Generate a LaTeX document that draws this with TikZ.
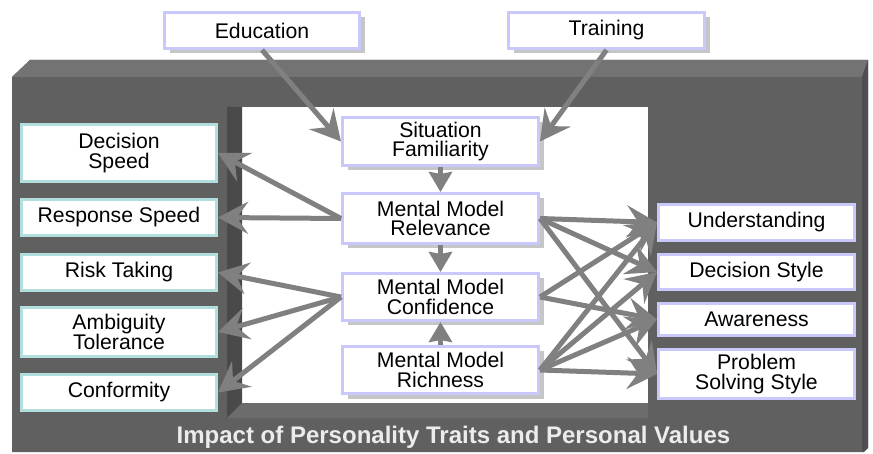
\documentclass[tikz,border=0pt]{standalone}
\usepackage{fontspec}
\setmainfont{Liberation Sans}
\usetikzlibrary{arrows.meta,shadows}

\definecolor{boxblue}{RGB}{200,200,250}
\definecolor{boxteal}{RGB}{178,222,222}
\definecolor{linkgrey}{RGB}{128,128,128}
\definecolor{frametop}{RGB}{115,115,115}
\definecolor{framemid}{RGB}{96,96,96}
\definecolor{framedark}{RGB}{74,74,74}
\definecolor{framelow}{RGB}{108,108,108}

\begin{document}
\begin{tikzpicture}[x=1pt,y=-1pt,
	box/.style={fill=white, line width=3pt, inner sep=1pt, align=center,
		minimum width=195pt, font=\fontsize{21.2}{19.5}\selectfont},
	cbox/.style={box, draw=boxblue,
		drop shadow={shadow xshift=5pt, shadow yshift=-5pt, fill=gray!45, opacity=1}},
	lbox/.style={box, draw=boxteal},
	rbox/.style={box, draw=boxblue, minimum width=196pt},
	link/.style={draw=linkgrey, line width=5pt, -{Stealth[length=30pt,width=32pt,inset=11pt]}},
	step link/.style={draw=linkgrey, line width=5pt, -{Stealth[length=20pt,width=23pt,inset=2pt]}}]
	
	\useasboundingbox (0,0) rectangle (873,454);
	
	%frame
	\fill[framemid] (12,77) -- (30,60) -- (868,60) -- (868,448) -- (864,452) -- (12,452) -- cycle;
	\fill[frametop] (12,77) -- (30,60) -- (868,60) -- (862,77) -- cycle;
	\fill[white] (242,107) rectangle (648,403);
	\fill[framedark] (227,107) -- (242,107) -- (242,403) -- (227,418) -- cycle;
	\fill[framelow] (227,418) -- (242,403) -- (648,403) -- (648,418) -- cycle;
	\fill[framedark!80!framemid] (862,77) -- (868,60) -- (868,448) -- (862,452) -- cycle;
	\node[text=gray!15, font=\fontsize{24}{24}\selectfont\bfseries] (impact) at (453.5,437)
		{Impact of Personality Traits and Personal Values};
	
	%sources
	\node[cbox, minimum height=36pt] (edu) at (262,30.5){Education};
	\node[cbox, minimum height=36pt, minimum width=196pt] (train) at (606.5,30.5){Training};
	
	%mental model
	\node[cbox, minimum height=48pt, minimum width=196pt] (sit) at (440.5,141.5){Situation\\Familiarity};
	\node[cbox, minimum height=50pt, minimum width=196pt] (rel) at (440.5,218.5){Mental Model\\Relevance};
	\node[cbox, minimum height=47pt, minimum width=196pt] (conf) at (440.5,297){Mental Model\\Confidence};
	\node[cbox, minimum height=47pt, minimum width=196pt] (rich) at (440.5,370){Mental Model\\Richness};
	
	%personality traits
	\node[lbox, minimum height=57pt] (dspeed) at (119,153){Decision\\Speed};
	\node[lbox, minimum height=36pt] (rspeed) at (119,217.5){Response Speed};
	\node[lbox, minimum height=36pt] (risk) at (119,272.5){Risk Taking};
	\node[lbox, minimum height=49pt] (ambig) at (119,332){Ambiguity\\Tolerance};
	\node[lbox, minimum height=36pt] (conform) at (119,392.5){Conformity};
	
	%outcomes
	\node[rbox, minimum height=36pt] (under) at (756.5,222.5){Understanding};
	\node[rbox, minimum height=35pt] (dstyle) at (756.5,272){Decision Style};
	\node[rbox, minimum height=32pt] (aware) at (756.5,319.5){Awareness};
	\node[rbox, minimum height=49pt] (solve) at (756.5,374){Problem\\Solving Style};
	
	\draw[link] (edu.south) -- (sit.west);
	\draw[link] (train.south) -- (sit.east);
	
	\draw[step link] (sit.south) -- (rel.north);
	\draw[step link] (rel.south) -- (conf.north);
	\draw[step link] (rich.north) -- (conf.south);
	
	\draw[link] (rel.west) -- (dspeed.east);
	\draw[link] (rel.west) -- (rspeed.east);
	
	\draw[link] (conf.west) -- (risk.east);
	\draw[link] (conf.west) -- (ambig.east);
	\draw[link] (conf.west) -- (conform.east);
	
	\draw[link] (rel.east) -- (under.west);
	\draw[link] (rel.east) -- (dstyle.west);
	\draw[link] (rel.east) -- (solve.west);
	
	\draw[link] (conf.east) -- (under.west);
	\draw[link] (conf.east) -- (aware.west);
	
	\draw[link] (rich.east) -- (under.west);
	\draw[link] (rich.east) -- (dstyle.west);
	\draw[link] (rich.east) -- (aware.west);
	\draw[link] (rich.east) -- (solve.west);
	
\end{tikzpicture}
\end{document}
